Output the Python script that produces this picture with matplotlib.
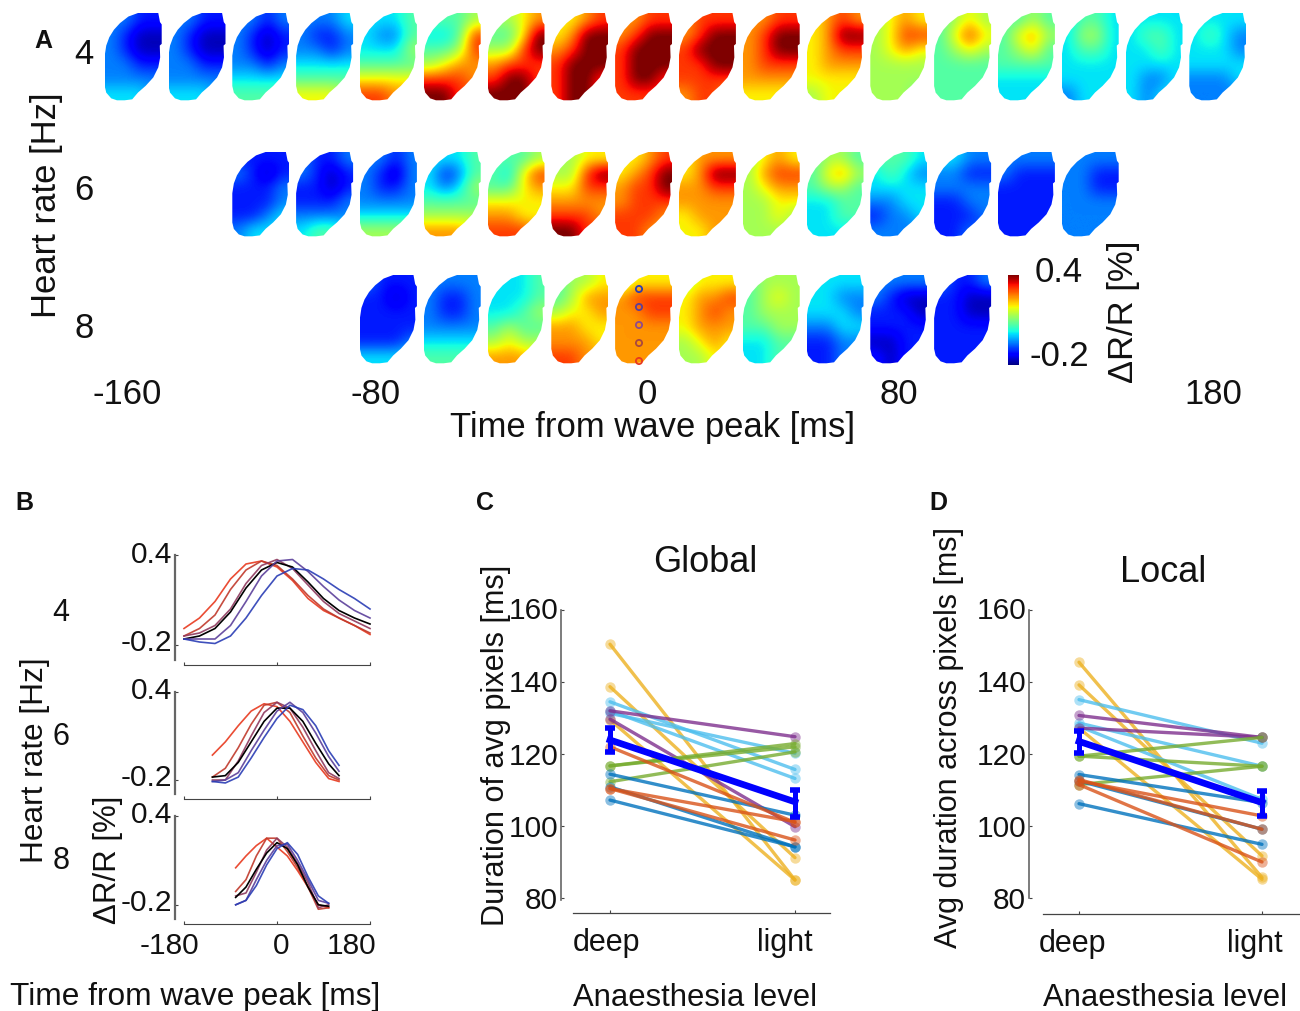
import numpy as np
import matplotlib
matplotlib.use("Agg")
import matplotlib.pyplot as plt
from matplotlib.patches import Polygon
from matplotlib.transforms import ScaledTranslation

plt.rcParams['font.family'] = ['Liberation Sans', 'DejaVu Sans']
W, H = 1300, 1011
fig = plt.figure(figsize=(W / 100, H / 100), dpi=100, facecolor='white')

# ---------- DATA ----------
# Panel A: coarse activity maps, jet level 0-9 per cell, rows top to bottom
maps_4hz = [
 "2211/2100/2100/2211/2222/3332", "2211/2100/2100/2211/2222/3332",
 "2212/2101/2101/2212/3333/4444", "2223/2112/2212/3333/4444/6665",
 "3334/3224/3335/4444/6666/8877", "4445/3348/4458/5677/8887/9988",
 "5567/4469/5589/7888/8998/9998", "6678/6799/7899/8999/8998/8998",
 "7788/7899/8999/8999/8998/8888", "7888/7899/8999/8899/8888/7887",
 "7788/7899/7899/7888/7777/6666", "6787/6799/6788/6777/6666/5666",
 "5676/5688/5676/5555/5555/5554", "4565/4686/4565/4444/4444/4444",
 "4454/4675/4564/4444/3333/3333", "3443/3553/3443/3333/3333/2333",
 "3333/3443/3343/3333/3223/3233", "3333/3432/3332/3333/2223/2222",
]
maps_6hz = [
 "1111/2101/1112/1112/1123/2333", "2112/2101/1101/1112/2222/3443",
 "2212/2102/2112/2222/3333/5555", "3334/3124/3235/4444/5555/7776",
 "4445/4368/4467/6666/7766/8887", "5566/5589/6688/7777/8887/9988",
 "6678/6789/7889/7888/8887/8877", "6777/6799/7788/7777/6777/6677",
 "5676/5788/5677/5566/5565/5555", "4554/4675/4554/3344/3344/3333",
 "4443/3432/3333/2233/1223/2222", "3322/2211/2222/1122/1112/1121",
 "2222/2111/1111/1111/1111/1111", "2222/2211/2211/2222/2222/2222",
]
maps_8hz = [
 "2111/1101/1111/1111/1112/3333", "2222/2112/2112/2222/3333/4444",
 "3334/3334/3345/4544/5655/7776", "4556/4577/5667/7766/7776/8877",
 "5666/7888/7788/7777/7777/7777", "5666/6778/6787/6777/5676/5566",
 "4555/4565/4555/4455/3344/3344", "3333/3322/3332/2233/1122/1122",
 "2222/2100/1110/1111/0011/1011", "2112/1100/1100/1111/1111/1111",
]
# ΔR/R [%] that each jet level stands for
level_values = [-0.17, -0.11, -0.05, 0.01, 0.07, 0.13, 0.19, 0.25, 0.31, 0.41]
map_start_ms = [-160, -120, -80]
map_step_ms = 20
heart_rates = ["4", "6", "8"]
dot_colors = ['#2a3db5', '#5b3f9a', '#8e4a8e', '#a8483f', '#e8391e']
dot_positions = [289, 307, 325, 343, 361]

# Panel B: wave-triggered traces, ΔR/R [%]
t_4hz = [-180, -150, -120, -90, -60, -30, 0, 30, 60, 90, 120, 150, 180]
t_6hz = [-125, -100, -75, -50, -25, 0, 25, 50, 75, 100, 120]
t_8hz = [-80, -60, -40, -20, 0, 20, 40, 60, 80, 100]
trace_colors = ['#e8391e', '#c0392b', '#8e3a5e', '#000000', '#5b3f9a', '#2a3db5']
traces_4hz = [
 [-.09, -.02, .09, .24, .34, .36, .32, .23, .11, .03, -.02, -.07, -.13],
 [-.14, -.09, .00, .17, .30, .36, .33, .24, .13, .04, -.02, -.07, -.12],
 [-.14, -.12, -.07, .04, .21, .33, .37, .31, .20, .09, .01, -.04, -.09],
 [-.16, -.14, -.09, .02, .18, .30, .35, .32, .22, .11, .03, -.02, -.06],
 [-.16, -.16, -.16, -.07, .09, .26, .36, .37, .29, .19, .10, .03, -.02],
 [-.16, -.18, -.19, -.14, -.02, .13, .26, .31, .30, .24, .17, .11, .04],
]
traces_6hz = [
 [-.03, .06, .17, .27, .32, .30, .20, .06, -.08, -.19, -.21],
 [-.18, -.12, .02, .18, .31, .33, .26, .10, -.05, -.17, -.20],
 [-.20, -.20, -.07, .10, .26, .33, .29, .16, .00, -.15, -.19],
 [-.18, -.17, -.08, .06, .20, .29, .29, .20, .05, -.09, -.17],
 [-.21, -.20, -.15, .00, .14, .27, .33, .26, .12, -.04, -.14],
 [-.21, -.22, -.18, -.05, .09, .22, .31, .28, .17, .00, -.10],
]
traces_8hz = [
 [.05, .13, .20, .25, .19, .13, .03, -.08, -.20, -.22],
 [-.11, -.03, .13, .25, .25, .16, .05, -.08, -.23, -.22],
 [-.14, -.12, .02, .17, .25, .19, .08, -.05, -.22, -.20],
 [-.15, -.08, .04, .15, .22, .18, .07, -.08, -.20, -.21],
 [-.20, -.17, -.03, .10, .20, .21, .10, -.03, -.17, -.19],
 [-.20, -.17, -.07, .07, .18, .22, .14, -.01, -.14, -.19],
]

# Panels C, D: duration per animal [deep, light]
levels = ['deep', 'light']
pair_colors = ['#EDB120', '#EDB120', '#EDB120', '#4DBEEE', '#4DBEEE', '#4DBEEE',
               '#7E2F8E', '#7E2F8E', '#77AC30', '#77AC30', '#77AC30',
               '#0072BD', '#0072BD', '#0072BD', '#D95319', '#D95319', '#D95319']
global_deep = [150.5, 138.7, 129.5, 134.5, 132.0, 131.3, 132.0, 129.7, 116.7, 112.3, 116.7,
               114.4, 110.9, 107.2, 110.4, 110.4, 122.0]
global_light = [85.0, 91.2, 85.0, 115.7, 113.2, 120.2, 124.8, 99.8, 122.9, 120.6, 122.0,
                103.0, 94.2, 94.2, 101.2, 96.1, 101.0]
local_deep = [145.5, 139.2, 127.2, 135.1, 128.6, 127.7, 130.7, 127.2, 119.4, 119.4, 111.5,
              114.3, 112.5, 106.2, 112.5, 112.9, 111.5]
local_light = [85.7, 91.7, 85.2, 123.0, 116.6, 107.4, 124.6, 124.6, 124.6, 116.6, 116.6,
               106.5, 99.1, 94.9, 102.8, 99.1, 90.0]
global_mean = [123.9, 106.7]
global_low = [120.6, 102.6]
global_high = [127.1, 110.0]
local_mean = [123.5, 106.5]
local_low = [120.3, 102.8]
local_high = [126.3, 109.7]
duration_ticks = [80, 100, 120, 140, 160]


# ---------- HELPERS ----------
def box(l, t, r, b, **kw):
    return fig.add_axes([l / W, 1 - b / H, (r - l) / W, (b - t) / H], **kw)


def txt(x, y, s, size, **kw):
    kw.setdefault('ha', 'center')
    kw.setdefault('va', 'center')
    if kw.get('rotation') == 90:
        x += 3
    else:
        y += 3
    fig.text(x / W, 1 - y / H, s, fontsize=size, color='#111111', **kw)


def shift_labels(labels, dxs, dys):
    for lab, dx, dy in zip(labels, dxs, dys):
        lab.set_transform(lab.get_transform() +
                          ScaledTranslation(dx / 100, -dy / 100, fig.dpi_scale_trans))


# ---------- PANEL A ----------
ms_per_px = 1 / 3.19
axA = box(0, 0, W, H)
axA.set_axis_off()
axA.patch.set_alpha(0)
outline = np.array([(.584, 0), (.94, 0), (.97, .103), (1, .13), (1, .351), (.966, .37), (.973, .504),
                    (.94, .618), (.852, .733), (.718, .828), (.584, .904), (.483, .981), (.349, .992),
                    (.215, .992), (.114, .97), (.027, .905), (0, .83), (0, .485), (.027, .37),
                    (.081, .275), (.161, .191), (.268, .115), (.416, .04)])
row_tops = [13, 152, 275]
row_heights = [88, 85, 89]
map_width_ms = 57 * ms_per_px
last_im = None
for maps, start, top, hgt in zip([maps_4hz, maps_6hz, maps_8hz], map_start_ms, row_tops, row_heights):
    for i, code in enumerate(maps):
        values = np.array([[level_values[int(c)] for c in r] for r in code.split('/')])
        t = start + i * map_step_ms
        x0 = t - map_width_ms / 2
        ext = (x0, x0 + map_width_ms, top + hgt, top)
        last_im = axA.imshow(values, cmap='jet', vmin=-0.2, vmax=0.4, extent=ext, aspect='auto',
                             interpolation='bicubic')
        poly = np.column_stack([x0 + outline[:, 0] * map_width_ms, top + outline[:, 1] * hgt])
        last_im.set_clip_path(Polygon(poly, closed=True, transform=axA.transData))
axA.set_xlim(-643.6 * ms_per_px, (W - 643.6) * ms_per_px)
axA.set_ylim(H, 0)
axA.scatter([(639 - 643.6) * ms_per_px] * 5, dot_positions, s=20, facecolor='none',
            edgecolor=dot_colors, linewidth=1.3)

cax = box(1008, 275, 1019, 365)
cb = fig.colorbar(last_im, cax=cax)
cb.set_ticks([])
cb.outline.set_visible(False)

txt(43, 38, 'A', 18, fontweight='bold')
for s, y in zip(heart_rates, [52, 188, 325]):
    txt(84, y, s, 24.9)
txt(44, 205, 'Heart rate [Hz]', 24.9, rotation=90)
for s, x in zip(['-160', '-80', '0', '80', '180'], [127, 376, 647, 899, 1213]):
    txt(x, 392, s, 24.9)
txt(653, 424, 'Time from wave peak [ms]', 24.9)
txt(1059, 270, '0.4', 24.9)
txt(1059, 353, '-0.2', 24.9)
txt(1120, 312, 'ΔR/R [%]', 24.9, rotation=90)

# ---------- PANEL B ----------
px_per_ms = 0.5167
sub_boxes = [(555, 660), (692, 794), (816, 919)]
sub_scale = [150.0, 146.7, 148.0]
for k, (times, traces) in enumerate(zip([t_4hz, t_6hz, t_8hz], [traces_4hz, traces_6hz, traces_8hz])):
    top, bot = sub_boxes[k]
    ax = box(175, top, 372, bot)
    ax.patch.set_alpha(0)
    for y, c in zip(traces, trace_colors):
        ax.plot(times, y, color=c, lw=1.2, alpha=0.9 if c != '#000000' else 1, clip_on=False)
    ax.set_xlim((175 - 277) / px_per_ms, (372 - 277) / px_per_ms)
    ax.set_ylim(0.4 - (bot - top) / sub_scale[k], 0.4)
    for s in ['top', 'right']:
        ax.spines[s].set_visible(False)
    ax.spines['left'].set_color('#666666')
    ax.spines['left'].set_linewidth(1.6)
    ax.spines['bottom'].set_position(('outward', 3.6))
    ax.spines['bottom'].set_bounds(-180, 180)
    ax.spines['bottom'].set_color('#444444')
    ax.spines['bottom'].set_linewidth(0.8)
    ax.set_xticks([-180, 0, 180])
    ax.set_yticks([-0.2, 0.4], ['-0.2', '0.4'], fontsize=21.5, color='#111111')
    ax.tick_params(axis='y', direction='in', length=2, pad=0, color='#444444')
    ax.tick_params(axis='x', direction='in', length=2, width=0.8, color='#444444', labelsize=21.5,
                   labelcolor='#111111', pad=6, labelbottom=(k == 2))
    shift_labels(ax.get_yticklabels(), [-3, -3], [-5, -3 if k == 0 else -4])
    if k == 2:
        ax.set_xticklabels(['-180', '0', '180'])
        shift_labels(ax.get_xticklabels(), [-15, 4, -18], [0, 0, 0])

txt(24, 500, 'B', 18, fontweight='bold')
for s, y in zip(heart_rates, [610, 734, 858]):
    txt(61, y, s, 22)
txt(32, 760, 'Heart rate [Hz]', 22.8, rotation=90)
txt(105, 860, 'ΔR/R [%]', 22.5, rotation=90)
txt(195, 994, 'Time from wave peak [ms]', 22.8)


# ---------- PANELS C, D ----------
def pairs(box_px, deep_px, light_px, bottom_line, line_left, deep, light, mean, low, high,
          scale, xshift):
    l, t, r, b = box_px
    ax = box(l, t, r, b)
    ax.patch.set_alpha(0)
    unit = light_px - deep_px
    xs = [0, 1]
    for d, li, c in zip(deep, light, pair_colors):
        ax.plot(xs, [d, li], color=c, lw=2.4, alpha=0.8, solid_capstyle='round', zorder=2, clip_on=False)
        ax.plot(xs, [d, li], color=c, ls='none', marker='o', ms=7.5, alpha=0.45, mew=0, zorder=2, clip_on=False)
    yerr = [np.array(mean) - np.array(low), np.array(high) - np.array(mean)]
    ax.errorbar(xs, mean, yerr=yerr, color='#0000ff', lw=4.8, elinewidth=3.6, capsize=3.6, capthick=4,
                zorder=4, clip_on=False)
    ax.set_xlim((l - deep_px) / unit, (r - deep_px) / unit)
    ax.set_ylim(160 - (b - t) / scale, 160)
    for s in ['top', 'right']:
        ax.spines[s].set_visible(False)
    ax.spines['left'].set_color('#666666')
    ax.spines['left'].set_linewidth(1.2)
    ax.spines['bottom'].set_position(('outward', (bottom_line - b) * 0.72))
    ax.spines['bottom'].set_bounds((line_left - deep_px) / unit, (r - deep_px) / unit)
    ax.spines['bottom'].set_color('#444444')
    ax.spines['bottom'].set_linewidth(0.9)
    ax.set_xticks(xs, levels)
    ax.set_yticks(duration_ticks)
    ax.tick_params(axis='y', direction='in', length=2, pad=2, color='#444444', labelsize=21.5,
                   labelcolor='#111111')
    ax.tick_params(axis='x', direction='in', length=2, width=0.8, pad=11, color='#444444', labelsize=22,
                   labelcolor='#111111')
    shift_labels(ax.get_xticklabels(), xshift, [0, 0])
    shift_labels(ax.get_yticklabels(), [0] * 5, [0, 0, 0, -1, -2])


pairs((561, 610, 830, 900), 610, 795, 913, 573, global_deep, global_light, global_mean,
      global_low, global_high, 3.6, [-4, -10])
pairs((1029, 610, 1299, 898), 1079, 1262, 914, 1043, local_deep, local_light, local_mean,
      local_low, local_high, 3.61, [-6, -7])

txt(485, 500, 'C', 18, fontweight='bold')
txt(938, 500, 'D', 18, fontweight='bold')
txt(705, 560, 'Global', 26)
txt(1163, 569, 'Local', 26)
txt(493, 745, 'Duration of avg pixels [ms]', 22.1, rotation=90)
txt(946, 738, 'Avg duration across pixels [ms]', 22, rotation=90)
txt(695, 995, 'Anaesthesia level', 22.3)
txt(1165, 995, 'Anaesthesia level', 22.3)

fig.savefig('out.png', dpi=100, facecolor='white')
